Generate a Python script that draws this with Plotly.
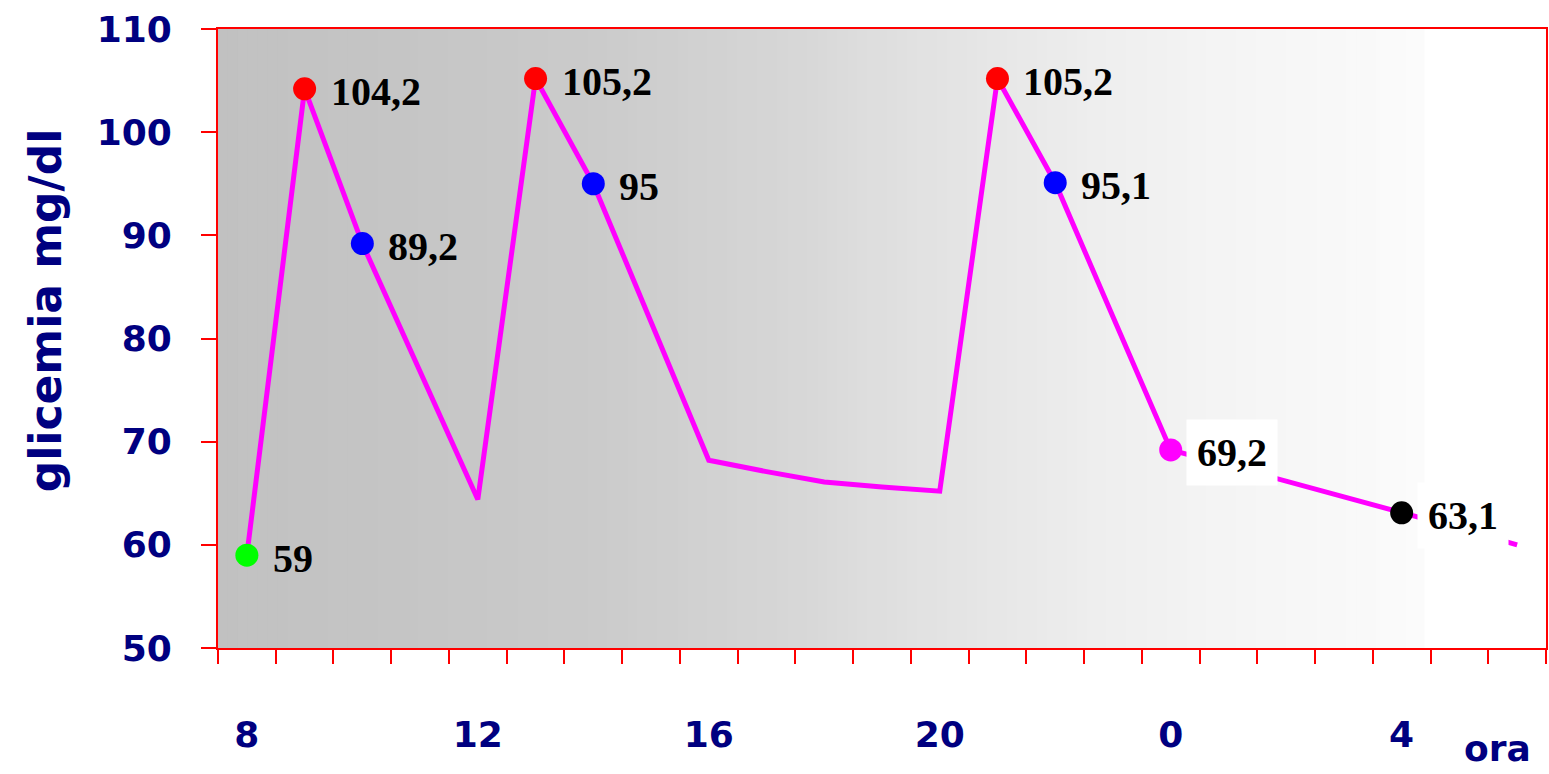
import plotly.graph_objects as go

# Hourly glucose profile over 24 h
hours = ["8", "9", "10", "11", "12", "13", "14", "15", "16", "17", "18", "19",
         "20", "21", "22", "23", "0", "1", "2", "3", "4", "5", "6"]
glicemia = [59, 104.2, 89.2, 76.8, 64.4, 105.2, 95, 81.6, 68.2, 67.1, 66.1, 65.6,
            65.2, 105.2, 95.1, 82.1, 69.2, 67.7, 66.2, 64.6, 63.1, 61.6, 60.0]

# Measured points shown with a coloured marker and a value label
marked_hours = ["8", "9", "10", "13", "14", "21", "22", "0", "4"]
marked_colors = ["#00ff00", "#ff0000", "#0000ff", "#ff0000", "#0000ff",
                 "#ff0000", "#0000ff", "#ff00ff", "#000000"]
boxed_labels = ["0", "4"]

tick_hours = ["8", "12", "16", "20", "0", "4"]
y_ticks = [50, 60, 70, 80, 90, 100, 110]

NAVY = "#000080"
AXIS_FONT = "Comic Sans MS, DejaVu Sans, sans-serif"
LABEL_FONT = "Times New Roman, Liberation Serif, serif"

W, H = 1549, 774
ML, MR, MT, MB = 218, 1, 29, 126
plot_w = W - ML - MR
plot_h = H - MT - MB

x_idx = list(range(len(hours)))
mk_idx = [hours.index(h) for h in marked_hours]
mk_val = [glicemia[i] for i in mk_idx]

fig = go.Figure()

fig.add_trace(go.Scatter(
    x=x_idx, y=glicemia, mode="lines",
    line=dict(color="#ff00ff", width=5),
    hoverinfo="skip", showlegend=False,
))
fig.add_trace(go.Scatter(
    x=mk_idx, y=mk_val, mode="markers",
    marker=dict(color=marked_colors, size=23, line=dict(width=0)),
    showlegend=False,
))

# Value labels to the right of each marker
for i, v in zip(mk_idx, mk_val):
    boxed = hours[i] in boxed_labels
    fig.add_annotation(
        x=i, y=v, xref="x", yref="y",
        text=f"{v:g}".replace(".", ","),
        showarrow=False, xanchor="left", yanchor="middle",
        xshift=15, yshift=-3,
        font=dict(family=LABEL_FONT, size=40, color="black", weight="bold"),
        bgcolor="white" if boxed else "rgba(0,0,0,0)",
        borderpad=10,
    )

# Horizontal grey-to-white gradient behind the plot
grad_px = [218, 400, 600, 800, 900, 1000, 1100, 1200, 1300, 1425]
grad_lv = [193, 197, 203, 215, 224, 231, 238, 243, 247, 251]


def level_at(px):
    for k in range(len(grad_px) - 1):
        if grad_px[k] <= px <= grad_px[k + 1]:
            t = (px - grad_px[k]) / (grad_px[k + 1] - grad_px[k])
            return grad_lv[k] + t * (grad_lv[k + 1] - grad_lv[k])
    return 255


step = 10
px = grad_px[0]
while px < grad_px[-1]:
    nxt = min(px + step, grad_px[-1])
    g = int(round(level_at((px + nxt) / 2)))
    fig.add_shape(
        type="rect", xref="x domain", yref="y domain",
        x0=(px - ML) / plot_w, x1=(nxt - ML) / plot_w + 0.001, y0=0, y1=1,
        fillcolor=f"rgb({g},{g},{g})", line=dict(width=0), layer="below",
    )
    px = nxt

fig.add_annotation(
    text="glicemia mg/dl", xref="paper", yref="paper",
    x=(45 - ML) / plot_w, y=(H - MB - 310) / plot_h,
    textangle=-90, showarrow=False, xanchor="center", yanchor="middle",
    font=dict(family=AXIS_FONT, size=44, color=NAVY, weight="bold"),
)
fig.add_annotation(
    text="ora", xref="paper", yref="paper",
    x=(1499 - ML) / plot_w, y=-(748 - (H - MB)) / plot_h,
    showarrow=False, xanchor="center", yanchor="middle",
    font=dict(family=AXIS_FONT, size=36, color=NAVY, weight="bold"),
)

fig.update_xaxes(
    range=[-0.5, len(hours) - 0.5],
    tickmode="array",
    tickvals=[hours.index(h) for h in tick_hours],
    ticktext=tick_hours,
    ticks="",
    ticklabelstandoff=54,
    tickfont=dict(family=AXIS_FONT, size=36, color=NAVY, weight="bold"),
    minor=dict(tickmode="linear", tick0=-0.5, dtick=1, ticks="outside",
               ticklen=14, tickwidth=2, tickcolor="red", showgrid=False),
    showline=True, linecolor="red", linewidth=2, mirror=True,
    showgrid=False, zeroline=False, fixedrange=True,
)
fig.update_yaxes(
    range=[50, 110], tickmode="array", tickvals=y_ticks,
    ticks="outside", ticklen=15, tickwidth=2, tickcolor="red",
    ticklabelstandoff=22,
    tickfont=dict(family=AXIS_FONT, size=36, color=NAVY, weight="bold"),
    showline=True, linecolor="red", linewidth=2, mirror=True,
    showgrid=False, zeroline=False, fixedrange=True,
)

fig.update_layout(
    width=W, height=H,
    margin=dict(l=ML, r=MR, t=MT, b=MB),
    paper_bgcolor="white", plot_bgcolor="white",
    showlegend=False,
)

fig.write_html("out.html")
